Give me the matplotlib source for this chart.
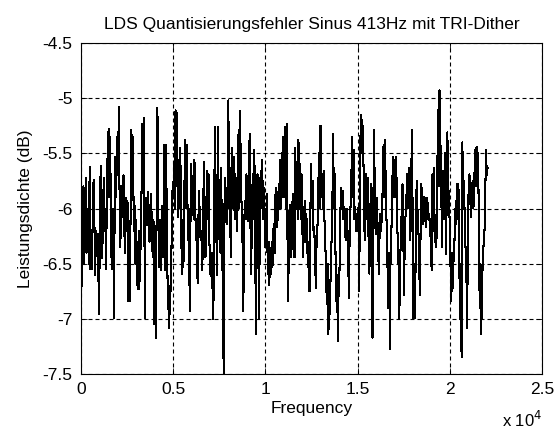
#!/usr/bin/env python3
"""LDS of the quantisation error, 413 Hz sine with TRI dither (MATLAB-style plot)."""

import matplotlib

matplotlib.use("Agg")
import matplotlib.pyplot as plt
import numpy as np
from matplotlib.ticker import FuncFormatter

# power density, in order of rising frequency (dB)
seg1 = [
    -5.6, -6.7, -5.9, -5.8, -6.5, -6.1, -5.72, -6.4, -6.0, -6.2, -6.5, -5.62,
    -6.55, -6.2, -6.55, -6.0, -5.74, -6.1, -6.6, -6.2, -6.4, -6.23, -6.55, -6.96,
    -6.1, -5.61, -6.3, -6.45, -6.0, -5.72, -6.2, -6.0, -6.55, -5.55, -5.8, -5.28,
    -5.9, -5.35, -6.1, -6.55, -6.2, -6.0, -6.99, -5.53, -5.9, -5.6, -5.35, -5.7,
    -5.08, -5.9, -6.35, -5.8, -6.08, -5.9, -5.7, -6.2, -6.4, -5.9, -6.2, -5.93,
    -6.84, -6.3, -6.84, -6.0, -5.29, -5.7, -5.35, -6.2, -5.97, -6.5, -6.1, -6.69,
    -6.3, -6.73, -6.2, -6.66, -6.1, -5.8, -5.23, -5.6, -5.18, -6.99,
]
seg2 = [
    -6.0, -5.9, -6.15, -5.85, -6.2, -6.3, -6.0, -5.87, -6.2, -6.44, -6.1, -7.05,
    -6.3, -7.17, -6.0, -5.09, -5.9, -6.53, -6.1, -6.56, -6.2, -5.98, -6.44, -5.9,
    -5.42, -6.56, -5.42, -6.2, -6.72, -6.9, -7.08, -6.7, -6.75, -6.3, -5.84, -5.9,
    -5.58, -6.0, -5.11, -5.8, -5.13, -6.08, -5.56, -6.0, -5.45, -6.0, -6.59, -6.1,
    -6.53, -6.0, -5.38, -6.0, -5.42, -5.9, -6.29, -6.0, -6.93, -6.1, -5.6, -6.0,
    -5.9, -6.1, -5.56, -6.0, -6.29, -6.2, -6.68, -6.1, -5.84, -6.2, -6.29, -6.2,
    -6.56, -6.1, -5.58, -6.1, -6.44, -6.0, -5.66, -6.1, -5.69, -6.3, -6.59, -6.4,
    -6.72, -6.4, -7.0, -6.0, -5.26, -6.3, -5.7, -6.6,
]
seg3 = [
    -5.26, -6.2, -5.97, -6.4, -5.63, -6.56, -6.2, -7.49, -6.0, -5.72, -6.1, -6.14,
    -5.8, -5.02, -6.0, -5.63, -6.44, -6.0, -5.45, -6.0, -5.53, -6.1, -5.69, -6.0,
    -6.2, -5.9, -5.29, -6.0, -5.12, -5.8, -5.99, -6.3, -6.93, -6.2, -5.93, -6.1,
    -5.69, -6.0, -6.11, -5.9, -5.32, -6.1, -6.59, -6.0, -5.69, -6.1, -5.47, -6.2,
    -7.14, -6.0, -5.69, -6.3, -6.99, -6.1, -5.66, -6.0, -5.56, -6.1, -5.81, -6.1,
    -6.35, -6.1, -5.87, -6.59, -6.3, -6.69, -6.4, -6.59, -6.3, -6.53, -6.2, -6.14,
    -6.4, -5.81, -6.1, -6.17, -6.0, -5.78, -6.0, -5.56, -6.0, -5.5, -5.9, -5.35,
    -5.9, -5.26, -6.0, -5.23, -6.2, -6.84, -6.1, -5.97, -6.2, -6.44, -6.0, -5.87,
]
seg4 = [
    -5.87, -6.44, -5.45, -6.0, -5.63, -6.1, -5.38, -6.0, -5.6, -6.1, -5.69, -6.2,
    -6.44, -6.1, -5.93, -6.3, -6.05, -6.3, -6.53, -6.3, -6.75, -6.1, -5.6, -6.0,
    -5.75, -6.2, -6.17, -6.4, -6.72, -6.3, -6.2, -5.9, -5.5, -6.0, -5.25, -5.9,
    -5.69, -6.0, -5.66, -6.1, -6.29, -6.6, -6.87, -6.5, -7.14, -6.7, -6.96, -6.5,
    -6.29, -6.0, -5.32, -6.0, -5.69, -6.4, -6.84, -6.6, -7.2, -6.7, -6.59, -6.1,
    -5.81, -6.0, -5.84, -6.1, -5.99, -6.2, -6.29, -6.0, -6.14, -6.4, -6.81, -6.2,
    -5.99, -5.8, -5.35, -5.9, -5.47, -6.1, -5.99, -6.2, -6.05, -6.2, -5.99, -6.75,
    -6.0, -5.15, -5.5, -5.2,
]
seg5 = [
    -5.38, -5.8, -6.29, -5.9, -5.69, -6.1, -5.72, -6.3, -6.59, -6.1, -5.78, -6.5,
    -7.17, -6.0, -5.29, -6.0, -6.23, -5.9, -6.05, -6.3, -6.59, -6.2, -6.05, -6.2,
    -5.99, -5.8, -5.42, -5.9, -5.38, -6.0, -6.14, -6.5, -6.9, -6.4, -7.27, -6.3,
    -6.2, -5.8, -5.53, -5.9, -5.56, -5.9, -5.53, -6.0, -6.32, -6.5, -7.0, -6.4,
    -6.35, -6.0, -5.78, -6.2, -6.78, -6.2, -6.05, -5.9, -5.69, -6.0, -5.63, -6.0,
    -6.29, -5.8, -5.29, -6.2, -7.0, -6.5, -6.99, -6.2, -5.75, -6.0, -6.14, -6.4,
    -6.78, -6.2, -5.78, -6.0, -6.14, -5.9, -5.9, -6.1, -6.17, -5.9, -5.96, -6.1,
    -6.05, -6.2, -6.29,
]
seg6 = [
    -6.56, -5.69, -6.2, -5.63, -6.3, -6.17, -6.35, -5.9, -5.11, -5.8, -4.93, -5.4,
    -5.53, -6.35, -5.9, -5.66, -6.1, -5.5, -6.41, -6.0, -5.31, -5.9, -5.84, -6.2,
    -6.53, -6.84, -6.4, -6.72, -6.4, -6.29, -6.0, -6.14, -5.78, -6.1, -5.78, -6.4,
    -7.0, -6.5, -7.35, -5.4, -5.9, -5.75, -6.1, -6.35, -6.5, -7.08, -6.3, -5.78,
    -5.69, -5.9, -6.08, -5.9, -5.75, -6.0, -5.84, -5.47, -5.8, -5.44, -5.7, -5.5,
    -6.2, -6.9, -6.5, -7.14, -6.6, -6.53, -6.3, -6.23, -5.9, -5.47, -5.7, -5.63,
]

fs = 44100
title = "LDS Quantisierungsfehler Sinus 413Hz mit TRI-Dither"
xlabel = "Frequency"
ylabel = "Leistungsdichte (dB)"
xticks = [0, 5000, 10000, 15000, 20000, 25000]
yticks = [-7.5, -7, -6.5, -6, -5.5, -5, -4.5]


def main() -> None:
    plt.rcParams["font.family"] = ["Liberation Sans", "DejaVu Sans"]
    plt.rcParams["axes.unicode_minus"] = False

    pxx = np.array(seg1 + seg2 + seg3 + seg4 + seg5 + seg6)
    freq = np.linspace(0, fs / 2, len(pxx))

    fig = plt.figure(figsize=(5.6, 4.3), dpi=100, facecolor="white")
    ax = fig.add_axes([0.1446, 0.1302, 0.8232, 0.7698])
    ax.plot(freq, pxx, color="black", linewidth=0.75, antialiased=False)

    ax.set_xlim(0, 25000)
    ax.set_ylim(-7.5, -4.5)
    ax.set_xticks(xticks)
    ax.set_yticks(yticks)
    ax.xaxis.set_major_formatter(FuncFormatter(lambda v, _: f"{v / 1e4:g}"))
    ax.yaxis.set_major_formatter(FuncFormatter(lambda v, _: f"{v:g}"))
    ax.tick_params(direction="in", top=True, right=True, length=4,
                   width=0.6, labelsize=12.5, pad=6)
    ax.grid(True, color="black", linestyle=(0, (3.6, 2.7)), linewidth=0.8)
    for spine in ax.spines.values():
        spine.set_linewidth(0.8)

    ax.set_title(title, fontsize=12.5, pad=10)
    ax.set_xlabel(xlabel, fontsize=12.5, labelpad=2.5)
    ax.set_ylabel(ylabel, fontsize=12.5, labelpad=7)
    ax.text(1.0, -0.16, r"x 10$^4$", transform=ax.transAxes,
            ha="right", va="baseline", fontsize=12)

    fig.savefig("out.png", dpi=100, facecolor="white")


if __name__ == "__main__":
    main()
